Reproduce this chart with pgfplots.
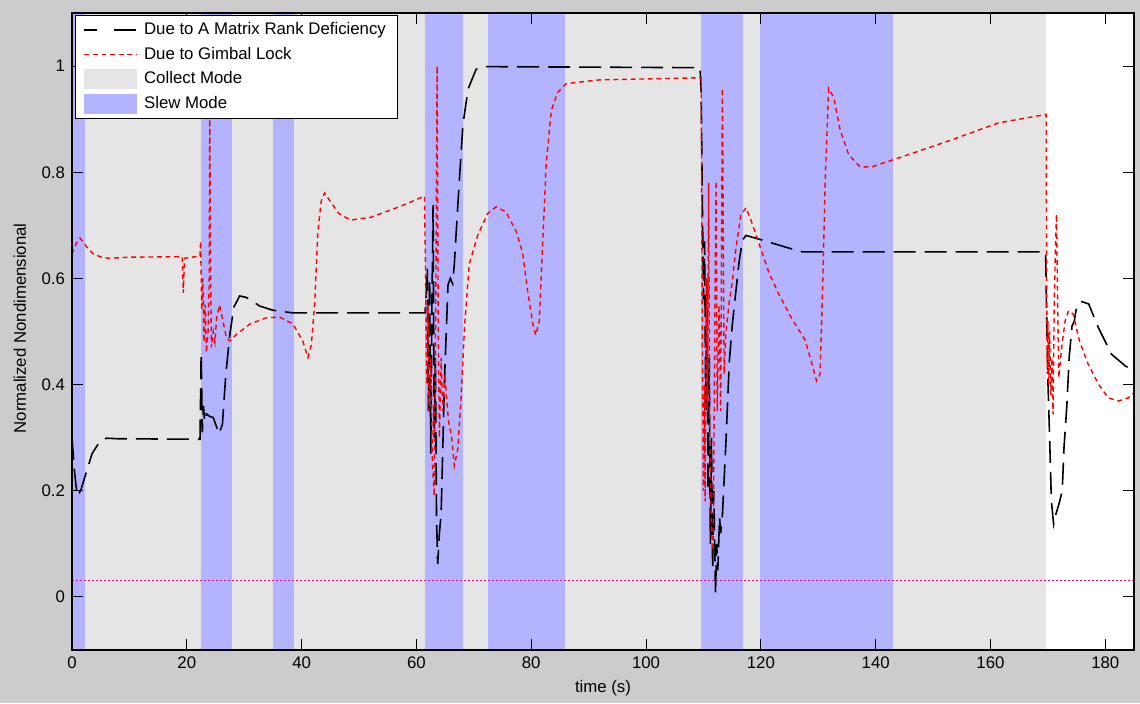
\documentclass[border=0pt]{standalone}
\usepackage{pgfplots}
\pgfplotsset{compat=1.18}
\usepackage{fontspec}
\setmainfont{Liberation Sans}
\definecolor{figgray}{HTML}{CCCCCC}
\definecolor{collect}{HTML}{E5E5E5}
\definecolor{slew}{HTML}{B3B3FF}
\pgfplotsset{
  linelegend/.style={legend image code/.code={\draw[##1] (0pt,0pt) -- (26pt,0pt);}},
  patchlegend/.style={legend image code/.code={\fill[##1] (0pt,-4.75pt) rectangle (26pt,4.75pt);}},
}
\begin{document}
\begin{tikzpicture}
\fill[figgray] (-36pt,-26.5pt) rectangle (534pt,325pt);
\begin{axis}[
  width=531pt, height=318.5pt, scale only axis,
  xmin=0, xmax=185, ymin=-0.1, ymax=1.1,
  xtick={0,20,...,180}, ytick={0,0.2,0.4,0.6,0.8,1},
  yticklabel style={/pgf/number format/fixed},
  tick align=inside, major tick length=5.5pt,
  tick style={black, line width=0.5pt},
  axis line style={black, line width=0.6pt},
  axis on top,
  axis background/.style={fill=white},
  font=\fontsize{8.4}{10}\selectfont,
  /pgf/number format/assume math mode=true,
  tick label style={font=\fontsize{8.4}{10}\selectfont},
  xlabel={time (s)},
  ylabel={Normalized Nondimensional},
  xlabel style={at={(axis description cs:0.5,-0.0597)}, anchor=center},
  ylabel style={at={(axis description cs:-0.049,0.505)}, anchor=center},
  legend cell align=left,
  legend style={at={(0,1)}, anchor=north west, xshift=1.5pt, yshift=-1pt,
    draw=black, fill=white, line width=0.5pt,
    font=\fontsize{8.4}{10}\selectfont,
    inner xsep=4pt, inner ysep=1.1pt, row sep=0pt,
    nodes={inner ysep=1.4pt, text height=7pt, text depth=2.5pt},
    /tikz/every odd column/.append style={column sep=1.5pt}},
]
\addlegendimage{linelegend, black, line width=0.8pt, dash pattern=on 6.5pt off 8.5pt on 11pt off 8.5pt}
\addlegendentry{Due to A Matrix Rank Deficiency}
\addlegendimage{linelegend, red, line width=0.7pt, dash pattern=on 2.4pt off 1.9pt}
\addlegendentry{Due to Gimbal Lock}
\addlegendimage{patchlegend, collect}
\addlegendentry{Collect Mode}
\addlegendimage{patchlegend, slew}
\addlegendentry{Slew Mode}

% collect mode background
\addplot[forget plot, draw=none, fill=collect] coordinates {(0,-0.1) (0,1.1) (169.7,1.1) (169.7,-0.1)} -- cycle;
% slew mode bands
\addplot[forget plot, draw=none, fill=slew] coordinates {(0,-0.1) (0,1.1) (2.3,1.1) (2.3,-0.1)} -- cycle;
\addplot[forget plot, draw=none, fill=slew] coordinates {(22.4,-0.1) (22.4,1.1) (27.8,1.1) (27.8,-0.1)} -- cycle;
\addplot[forget plot, draw=none, fill=slew] coordinates {(35.0,-0.1) (35.0,1.1) (38.7,1.1) (38.7,-0.1)} -- cycle;
\addplot[forget plot, draw=none, fill=slew] coordinates {(61.5,-0.1) (61.5,1.1) (68.1,1.1) (68.1,-0.1)} -- cycle;
\addplot[forget plot, draw=none, fill=slew] coordinates {(72.5,-0.1) (72.5,1.1) (85.8,1.1) (85.8,-0.1)} -- cycle;
\addplot[forget plot, draw=none, fill=slew] coordinates {(109.5,-0.1) (109.5,1.1) (116.9,1.1) (116.9,-0.1)} -- cycle;
\addplot[forget plot, draw=none, fill=slew] coordinates {(119.9,-0.1) (119.9,1.1) (143.1,1.1) (143.1,-0.1)} -- cycle;

% threshold line
\addplot[forget plot, magenta, line width=0.5pt, dash pattern=on 1pt off 1pt] coordinates {(0,0.03) (185,0.03)};

% rank deficiency
\addplot[forget plot, black, line width=0.8pt, dash pattern=on 11pt off 4.5pt] coordinates {
(0,0.30) (0.4,0.24) (0.9,0.19) (1.5,0.20) (2.5,0.235) (3.5,0.27) (4.8,0.292) (6,0.299) (8,0.298) (22.3,0.297)
(22.5,0.46) (22.7,0.31) (22.9,0.36) (23.1,0.33) (23.4,0.345) (24.0,0.34) (24.6,0.338) (25.2,0.32) (25.6,0.307)
(26.2,0.325) (26.8,0.42) (27.5,0.495) (28.2,0.546) (29.2,0.567) (30.4,0.564) (32.7,0.548) (35.0,0.540) (38.5,0.535)
(61.5,0.535) (61.7,0.57) (61.9,0.62) (62.1,0.35) (62.3,0.60) (62.5,0.27) (62.7,0.55) (62.9,0.738) (63.1,0.30)
(63.3,0.45) (63.5,0.15) (63.7,0.062) (64.0,0.12) (64.3,0.156) (64.9,0.412) (65.5,0.588) (65.9,0.60) (66.3,0.59)
(66.6,0.627) (66.9,0.682) (67.5,0.789) (68.1,0.89) (69.0,0.957) (70.4,0.994) (71.6,0.999) (90,0.998) (109.4,0.997)
(109.6,0.95) (109.8,0.75) (110.0,0.56) (110.2,0.67) (110.4,0.35) (110.6,0.6) (110.8,0.2) (111.0,0.45) (111.2,0.1)
(111.4,0.3) (111.6,0.05) (111.8,0.2) (112.1,0.005) (112.3,0.1) (112.5,0.05) (112.8,0.15) (113.0,0.12) (113.3,0.154)
(113.9,0.288) (114.5,0.443) (115.0,0.510) (115.6,0.571) (116.2,0.631) (116.8,0.672) (117.4,0.681) (119.7,0.674)
(124.3,0.659) (127.2,0.650) (169.6,0.65) (169.8,0.52) (170.0,0.407) (170.3,0.30) (170.6,0.181) (171.0,0.137)
(171.4,0.156) (172.0,0.178) (172.5,0.20) (172.8,0.281) (173.3,0.36) (173.7,0.45) (174.2,0.51) (174.6,0.52)
(174.9,0.54) (175.7,0.557) (177.1,0.552) (178.8,0.507) (181.1,0.457) (183.5,0.435) (185,0.427)
};

% gimbal lock
\addplot[forget plot, red, line width=0.7pt, dash pattern=on 2.4pt off 1.9pt] coordinates {
(0,0.646) (0.7,0.665) (1.4,0.676) (2.5,0.66) (3.7,0.646) (5.4,0.639) (6.6,0.638) (10,0.640) (19.2,0.641)
(19.4,0.573) (19.6,0.638) (22.3,0.642) (22.4,0.67) (22.6,0.54) (22.8,0.60) (23.0,0.48) (23.2,0.55) (23.4,0.46)
(23.7,0.5) (23.9,0.6) (24.0,0.9) (24.15,0.6) (24.3,0.47) (24.6,0.5) (24.9,0.48) (25.2,0.526) (25.7,0.55)
(26.3,0.52) (26.9,0.488) (27.5,0.482) (28.7,0.495) (31.0,0.514) (33.9,0.526) (36.2,0.527) (38.5,0.514)
(40.2,0.482) (41.1,0.451) (41.7,0.476) (42.3,0.557) (42.8,0.683) (43.4,0.745) (44.0,0.761) (45.0,0.745)
(46.5,0.722) (48.5,0.71) (52,0.715) (57,0.735) (61.4,0.755) (61.6,0.60) (61.8,0.40) (62.0,0.55) (62.2,0.35)
(62.5,0.45) (62.8,0.25) (63.1,0.19) (63.4,0.6) (63.6,1.0) (63.8,0.5) (64.0,0.3) (64.3,0.45) (64.6,0.35)
(65.0,0.42) (65.2,0.382) (65.6,0.33) (66.1,0.305) (66.6,0.247) (67.2,0.278) (67.8,0.379) (68.4,0.513)
(69.2,0.627) (70.7,0.682) (72.4,0.722) (73.9,0.735) (75.6,0.725) (77.4,0.688) (78.5,0.648) (79.4,0.574)
(80.3,0.513) (80.8,0.493) (81.4,0.52) (82.0,0.668) (82.6,0.815) (83.5,0.917) (84.6,0.95) (86.1,0.967)
(91.9,0.974) (109.6,0.978) (109.8,0.5) (110.0,0.2) (110.2,0.4) (110.3,0.18) (110.5,0.6) (110.7,0.35)
(110.9,0.78) (111.1,0.3) (111.4,0.12) (111.7,0.087) (112.0,0.55) (112.2,0.783) (112.4,0.35) (112.7,0.55)
(113.0,0.35) (113.3,0.958) (113.6,0.42) (113.9,0.497) (114.5,0.557) (115.0,0.591) (115.6,0.652) (116.5,0.719)
(117.4,0.733) (118.2,0.712) (119.7,0.665) (121.4,0.611) (123.1,0.571) (125.4,0.524) (127.7,0.484) (128.8,0.443)
(129.7,0.407) (130.3,0.42) (130.7,0.557) (131.2,0.78) (131.8,0.958) (132.7,0.941) (133.8,0.88) (135.3,0.833)
(137.3,0.81) (139.3,0.81) (144,0.827) (152.7,0.859) (161.4,0.893) (169.7,0.909) (169.8,0.55) (169.9,0.42)
(170.0,0.52) (170.15,0.40) (170.3,0.5) (170.5,0.38) (170.7,0.45) (170.9,0.344) (171.1,0.55) (171.3,0.65)
(171.5,0.721) (171.7,0.55) (171.9,0.413) (172.4,0.47) (173.0,0.52) (173.6,0.539) (174.4,0.533) (175.5,0.482)
(177.0,0.439) (178.8,0.401) (180.5,0.375) (182.3,0.369) (184.0,0.375) (185,0.385)
};
\end{axis}
\pgfresetboundingbox
\path (-36pt,-26.5pt) rectangle (534pt,325pt);
\end{tikzpicture}
\end{document}
